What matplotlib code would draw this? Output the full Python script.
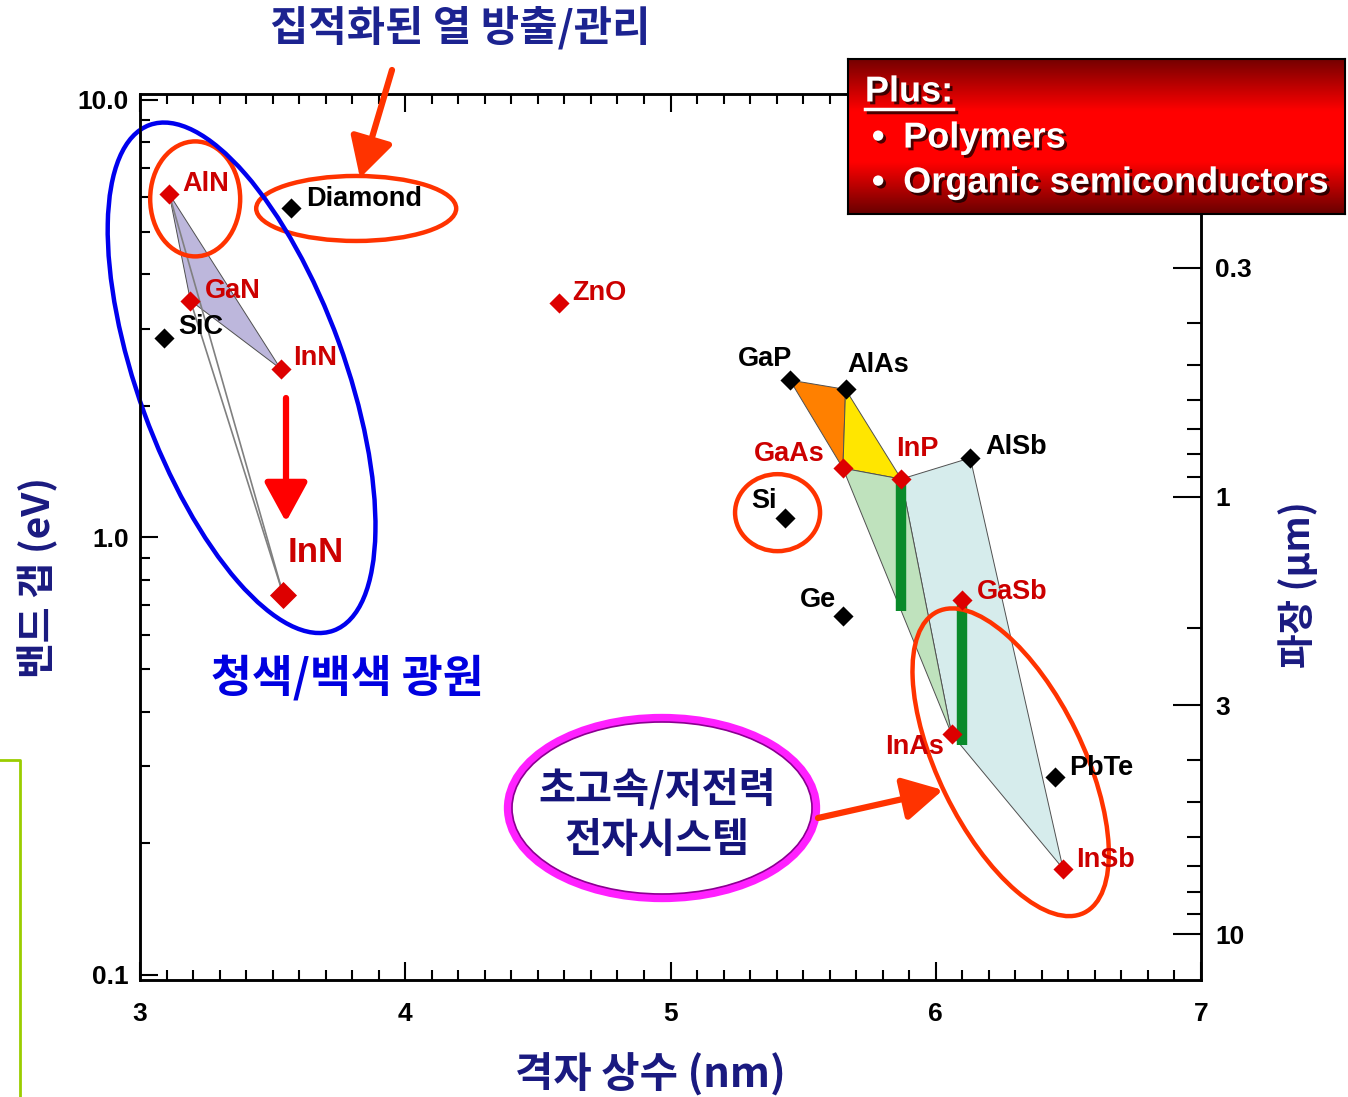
import numpy as np
import matplotlib.pyplot as plt
import matplotlib.patheffects as pe
from matplotlib.patches import Ellipse, FancyArrowPatch
from matplotlib.lines import Line2D
from matplotlib.colors import LinearSegmentedColormap
from matplotlib.ticker import MultipleLocator, NullFormatter, FixedLocator, LogLocator
from matplotlib.transforms import ScaledTranslation

LATIN = ['Liberation Sans', 'DejaVu Sans']
HANGUL = ['Noto Sans CJK KR', 'DejaVu Sans']
plt.rcParams['font.family'] = LATIN

# lattice constant (nm) and band gap (eV) for each material
keys = ['AlN', 'GaN', 'SiC', 'InN_old', 'InN', 'Diamond', 'ZnO', 'GaP', 'AlAs',
        'GaAs', 'InP', 'AlSb', 'Si', 'Ge', 'GaSb', 'InAs', 'PbTe', 'InSb']
names = ['AlN', 'GaN', 'SiC', 'InN', 'InN', 'Diamond', 'ZnO', 'GaP', 'AlAs',
         'GaAs', 'InP', 'AlSb', 'Si', 'Ge', 'GaSb', 'InAs', 'PbTe', 'InSb']
lattice = [3.11, 3.19, 3.09, 3.53, 3.54, 3.57, 4.58, 5.45, 5.66,
           5.65, 5.87, 6.13, 5.43, 5.65, 6.10, 6.06, 6.45, 6.48]
band_gap = [6.1, 3.48, 2.85, 2.43, 0.74, 5.65, 3.43, 2.29, 2.18,
            1.44, 1.36, 1.52, 1.11, 0.66, 0.72, 0.355, 0.284, 0.175]
red_keys = ['AlN', 'GaN', 'InN_old', 'InN', 'ZnO', 'GaAs', 'InP', 'GaSb', 'InAs', 'InSb']

# alloy regions spanned by the binaries
alloys = [['AlN', 'GaN', 'InN_old'],
          ['GaP', 'AlAs', 'GaAs'],
          ['AlAs', 'InP', 'GaAs'],
          ['InP', 'AlSb', 'InSb', 'InAs'],
          ['GaAs', 'InP', 'InAs']]
alloy_colors = ['#bdb7dc', '#ff8000', '#ffe600', '#d6ecec', '#bfe2bd']
tie_lines = [['AlN', 'InN'], ['GaN', 'InN']]

# lattice-matched composition ranges
bar_x = [5.87, 6.10]
bar_top = [1.36, 0.72]
bar_bottom = [0.68, 0.335]

# wavelength axis ticks (um)
wl_ticks = [0.3, 1, 3, 10]

# label placement: offset in pixels (dx, dy) and alignment
label_pos = {
    'AlN': (13, 10, 'left'), 'GaN': (14, 10, 'left'), 'SiC': (14, 11, 'left'),
    'InN_old': (13, 11, 'left'), 'InN': (4, 42, 'left'), 'Diamond': (15, 9, 'left'),
    'ZnO': (13, 10, 'left'), 'GaP': (2, 21, 'right'), 'AlAs': (2, 24, 'left'),
    'GaAs': (-18, 14, 'right'), 'InP': (-5, 30, 'left'), 'AlSb': (15, 11, 'left'),
    'Si': (-8, 17, 'right'), 'Ge': (-7, 16, 'right'), 'GaSb': (15, 8, 'left'),
    'InAs': (-8, -13, 'right'), 'PbTe': (14, 9, 'left'), 'InSb': (13, 9, 'left'),
}


def pt(k):
    i = keys.index(k)
    return lattice[i], band_gap[i]


fig = plt.figure(figsize=(13.48, 10.97), dpi=100)
ax = fig.add_axes([140 / 1348, 1 - 980 / 1097, 1061 / 1348, 886 / 1097])
ax.set_yscale('log')
ax.set_xlim(3, 7)
ax.set_ylim(0.0974, 10.32)

for poly, col in zip(alloys, alloy_colors):
    xs, ys = zip(*[pt(k) for k in poly])
    ax.fill(xs, ys, facecolor=col, edgecolor='#505050', lw=0.7, zorder=1)

for a, b in tie_lines:
    (x0, y0), (x1, y1) = pt(a), pt(b)
    ax.plot([x0, x1], [y0, y1], color='#808080', lw=1.2, zorder=2)

ax.vlines(bar_x, bar_bottom, bar_top, color='#0a8a2a', lw=7.5, zorder=3)

for k, name, x, y in zip(keys, names, lattice, band_gap):
    red = k in red_keys
    big = k == 'InN'
    ax.scatter(x, y, marker='D', s=190 if big else 105,
               color='#dd0000' if red else 'black', zorder=6, linewidths=0)
    dx, dy, ha = label_pos[k]
    ax.annotate(name, (x, y), xytext=(dx, dy), textcoords='offset pixels',
                ha=ha, va='center', fontsize=25 if big else 19.5, fontweight='bold',
                color='#cc0000' if red else 'black', zorder=7)

# axes styling
ax.set_yticks([0.1, 1, 10])
ax.set_yticklabels(['0.1', '1.0', '10.0'])
ax.yaxis.set_minor_locator(LogLocator(subs=np.arange(2, 10)))
ax.yaxis.set_minor_formatter(NullFormatter())
ax.set_xticks([3, 4, 5, 6, 7])
ax.xaxis.set_minor_locator(MultipleLocator(0.1))
ax.tick_params(which='both', direction='in', top=True, right=False, width=1.5)
ax.tick_params(which='major', length=13)
ax.tick_params(axis='x', which='major', pad=16)
ax.tick_params(axis='y', which='major', pad=8)
ax.tick_params(which='minor', length=7)
for lab in ax.get_xticklabels() + ax.get_yticklabels():
    lab.set_fontweight('bold')
    lab.set_fontsize(19)
for s in ax.spines.values():
    s.set_linewidth(1.8)

# wavelength axis, lambda = 1.24 / E
ax2 = ax.twinx()
ax2.set_yscale('log')
e0, e1 = ax.get_ylim()
ax2.set_ylim(1.24 / e0, 1.24 / e1)
ax2.yaxis.set_major_locator(FixedLocator(wl_ticks))
ax2.set_yticklabels(['0.3', '1', '3', '10'])
ax2.yaxis.set_minor_locator(LogLocator(subs=np.arange(2, 10)))
ax2.yaxis.set_minor_formatter(NullFormatter())
ax2.tick_params(which='both', direction='in', width=1.5)
ax2.tick_params(which='major', length=20, pad=10)
ax2.tick_params(which='minor', length=10)
for lab in ax2.get_yticklabels():
    lab.set_fontweight('bold')
    lab.set_fontsize(19)
for s in ax2.spines.values():
    s.set_linewidth(1.8)


def around(k):
    x, y = pt(k)
    return fig.dpi_scale_trans + ScaledTranslation(x, y, ax.transData)


# highlight rings around materials (offsets and sizes in inches)
rings = [('AlN', 0.26, -0.05, 0.90, 1.15, 0, '#ff3300'),
         ('Diamond', 0.65, 0.0, 2.00, 0.65, 0, '#ff3300'),
         ('Si', -0.07, 0.05, 0.85, 0.77, 0, '#ff3300'),
         ('InAs', 0.59, -0.28, 1.45, 3.35, 26, '#ff3300'),
         ('InN_old', -0.39, -0.09, 2.07, 5.38, 20, '#0000ee')]
for k, dx, dy, w, h, ang, col in rings:
    ax.add_patch(Ellipse((dx, dy), w, h, angle=ang, transform=around(k),
                         fill=False, edgecolor=col, lw=3.2, zorder=5, clip_on=False))

inch = fig.dpi_scale_trans

fig.add_artist(Ellipse((6.62, 2.89), 3.08, 1.80, transform=inch, fill=False,
                       edgecolor='#ff20ff', lw=6, zorder=5))
fig.add_artist(Ellipse((6.62, 2.89), 3.0, 1.72, transform=inch, fill=False,
                       edgecolor='#8a0090', lw=1.2, zorder=5))

arrows = [((3.92, 10.27), (3.60, 9.19), '#ff3300'),
          ((2.86, 6.99), (2.86, 5.75), '#ff0000'),
          ((8.18, 2.79), (9.43, 3.07), '#ff3300')]
for a, b, col in arrows:
    fig.add_artist(FancyArrowPatch(a, b, transform=inch, color=col, lw=4.5,
                                   arrowstyle='-|>,head_length=1.1,head_width=0.6',
                                   mutation_scale=22, shrinkA=0, shrinkB=0, zorder=6))

kw = dict(transform=inch, ha='center', va='center', family=HANGUL, fontweight='bold')
fig.text(4.60, 10.69, '집적화된 열 방출/관리', fontsize=30, color='#1c2390', **kw)
fig.text(3.47, 4.19, '청색/백색 광원', fontsize=32, color='#0000e0', **kw)
fig.text(6.57, 3.07, '초고속/저전력', fontsize=29, color='#14147a', **kw)
fig.text(6.57, 2.57, '전자시스템', fontsize=29, color='#14147a', **kw)
fig.text(0.38, 5.19, '밴드 갭 (eV)', fontsize=28, color='#1a1a80', rotation=90, **kw)
fig.text(6.50, 0.22, '격자 상수 (nm)', fontsize=30, color='#1a1a80', **kw)
fig.text(12.98, 5.12, '파장 (μm)', fontsize=27, color='#1a1a80', rotation=90, **kw)

# red gradient note box
box = fig.add_axes([848 / 1348, 1 - 214 / 1097, 497 / 1348, 155 / 1097], zorder=10)
grad = LinearSegmentedColormap.from_list('redbox', ['#760000', '#ff0000', '#ff0000', '#6a0000'])
box.imshow(np.linspace(0, 1, 200).reshape(-1, 1), cmap=grad, aspect='auto',
           extent=[0, 1, 0, 1], origin='upper')
box.set_xticks([])
box.set_yticks([])
for s in box.spines.values():
    s.set_linewidth(1.5)
    s.set_color('black')
shadow = [pe.SimplePatchShadow(offset=(2, -2), shadow_rgbFace='black', alpha=0.7), pe.Normal()]
tkw = dict(transform=box.transAxes, color='white', fontweight='bold', fontsize=26,
           va='center', path_effects=shadow)
box.text(0.034, 0.787, 'Plus:', ha='left', **tkw)
box.plot([0.034, 0.212], [0.675, 0.675], color='white', lw=2.5, transform=box.transAxes,
         path_effects=[pe.SimpleLineShadow(offset=(2, -2), alpha=0.7), pe.Normal()])
box.text(0.048, 0.49, '•', ha='left', **tkw)
box.text(0.111, 0.49, 'Polymers', ha='left', **tkw)
box.text(0.048, 0.20, '•', ha='left', **tkw)
box.text(0.111, 0.20, 'Organic semiconductors', ha='left', **tkw)

# frame line at the lower left edge
fig.add_artist(Line2D([0, 0.20, 0.20], [3.37, 3.37, 0], transform=inch,
                      color='#9acd00', lw=2))

fig.savefig('out.png', dpi=100)
